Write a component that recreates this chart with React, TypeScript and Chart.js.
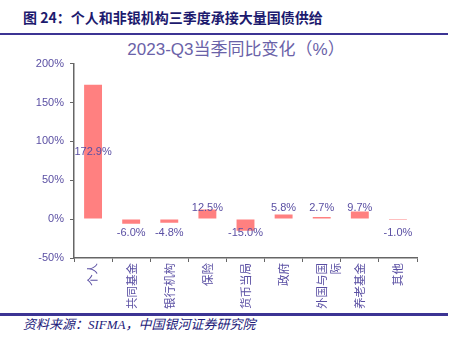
import React, { useEffect, useRef } from "react";
import { Chart, registerables } from "chart.js";

Chart.register(...registerables);

const categories: (string | string[])[] = [
  "个人",
  "共同基金",
  "银行机构",
  "保险",
  "货币当局",
  "政府",
  ["外国与国", "际"],
  "养老基金",
  "其他",
];
const values = [172.9, -6.0, -4.8, 12.5, -15.0, 5.8, 2.7, 9.7, -1.0];
const yTicks = [-50, 0, 50, 100, 150, 200];

const PURPLE = "#5a4fa3";
const BAR = "#ff8080";
const NUM_FONT = "'Liberation Sans', Arial, 'Noto Sans CJK SC', sans-serif";

const labelPlugin = {
  id: "valueLabels",
  afterDatasetsDraw(chart: any) {
    const ctx = chart.ctx;
    const meta = chart.getDatasetMeta(0);
    const y = chart.scales.y;
    const zero = y.getPixelForValue(0);
    ctx.save();
    ctx.font = `11px ${NUM_FONT}`;
    ctx.fillStyle = PURPLE;
    ctx.textAlign = "center";
    ctx.textBaseline = "middle";
    meta.data.forEach((bar: any, i: number) => {
      const v = values[i];
      let py: number;
      if (v > 50) py = (y.getPixelForValue(v) + zero) / 2;
      else if (v >= 0) py = zero - 11;
      else py = zero + 14;
      ctx.fillText(v.toFixed(1) + "%", bar.x, py);
    });
    ctx.restore();
  },
};

export default function App() {
  const ref = useRef<HTMLCanvasElement | null>(null);
  useEffect(() => {
    if (!ref.current) return;
    const chart = new Chart(ref.current, {
      type: "bar",
      data: {
        labels: categories,
        datasets: [
          {
            data: values,
            backgroundColor: BAR,
            borderWidth: 0,
            barPercentage: 0.47,
            categoryPercentage: 1,
          },
        ],
      },
      options: {
        responsive: false,
        animation: false,
        layout: { padding: { left: 0, right: 44, top: 0, bottom: 0 } },
        plugins: {
          legend: { display: false },
          tooltip: { enabled: false },
          title: { display: false },
        },
        scales: {
          x: {
            grid: {
              drawOnChartArea: false,
              tickLength: 4,
              color: "#666",
              offset: true,
            },
            border: { color: "#666", width: 1.5 },
            ticks: {
              minRotation: 90,
              maxRotation: 90,
              autoSkip: false,
              color: PURPLE,
              padding: 1,
              font: { size: 11.5, family: "'Noto Sans CJK SC', sans-serif" },
            },
            afterFit(scale: any) {
              scale.height = 53;
            },
          },
          y: {
            min: -50,
            max: 200,
            afterBuildTicks(scale: any) {
              scale.ticks = yTicks.map((v) => ({ value: v }));
            },
            grid: {
              drawOnChartArea: false,
              tickLength: 4,
              color: "#666",
            },
            border: { color: "#666", width: 1.5 },
            ticks: {
              color: PURPLE,
              padding: 6,
              font: { size: 11, family: NUM_FONT },
              callback: (v: any) => v + "%",
            },
            afterFit(scale: any) {
              scale.width = 74;
            },
          },
        },
      },
      plugins: [labelPlugin],
    });
    return () => chart.destroy();
  }, []);

  return (
    <div
      style={{
        position: "absolute",
        left: 0,
        top: 0,
        width: 461,
        height: 352,
        background: "#fff",
        overflow: "hidden",
      }}
    >
      <div
        style={{
          position: "absolute",
          left: 23,
          top: 8,
          fontSize: 14,
          fontWeight: "bold",
          color: "#1c1a6e",
          fontFamily: "'Noto Sans CJK SC', sans-serif",
          lineHeight: "18px",
          whiteSpace: "nowrap",
        }}
      >
        图 24：个人和非银机构三季度承接大量国债供给
      </div>
      <div
        style={{
          position: "absolute",
          left: 0,
          top: 33,
          width: 448,
          height: 2,
          background: "#3c3494",
        }}
      />
      <div
        style={{
          position: "absolute",
          left: 0,
          width: 472,
          top: 39,
          textAlign: "center",
          fontSize: 17,
          color: "#6a62a8",
          fontFamily: NUM_FONT,
          lineHeight: "22px",
          whiteSpace: "nowrap",
        }}
      >
        2023-Q3当季同比变化（%）
      </div>
      <canvas
        ref={ref}
        width={461}
        height={260}
        style={{ position: "absolute", left: 0, top: 51, width: 461, height: 260 }}
      />
      <div
        style={{
          position: "absolute",
          left: 0,
          top: 313,
          width: 448,
          height: 3,
          background: "#3c3494",
        }}
      />
      <div
        style={{
          position: "absolute",
          left: 23,
          top: 317,
          fontSize: 13,
          fontStyle: "italic",
          color: "#22207a",
          fontFamily: "'Liberation Serif', 'Noto Sans CJK SC', serif",
          lineHeight: "16px",
          whiteSpace: "nowrap",
        }}
      >
        资料来源：SIFMA，中国银河证券研究院
      </div>
    </div>
  );
}
